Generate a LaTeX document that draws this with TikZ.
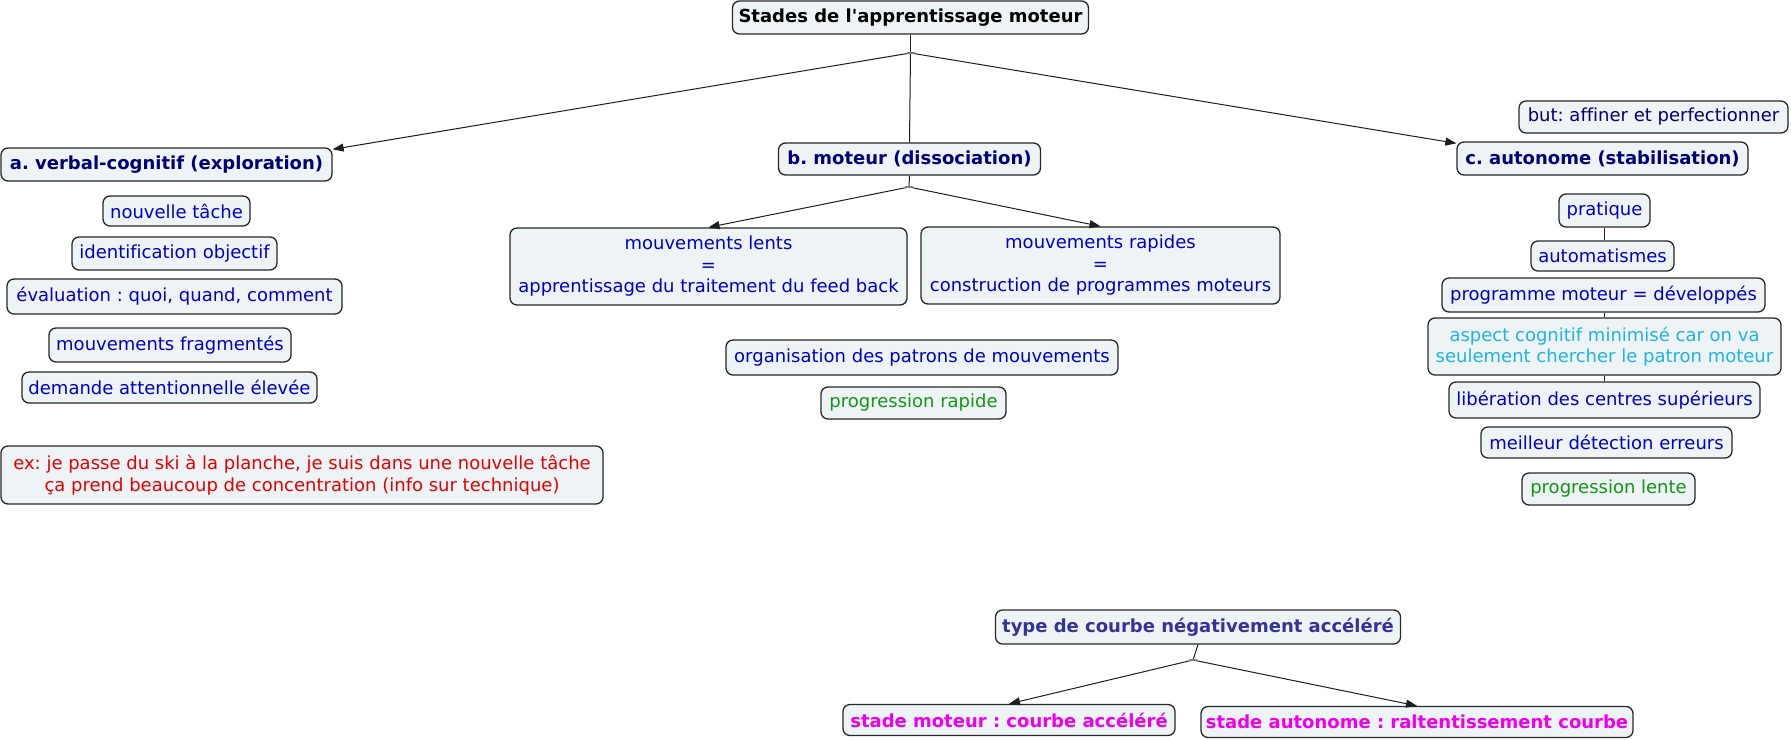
\documentclass[tikz,border=0pt]{standalone}
\usepackage{fontspec}
\setmainfont{DejaVu Sans}[Ligatures={TeXOff,NoCommon}]
\usetikzlibrary{arrows.meta,calc}
\definecolor{boxfill}{RGB}{238,244,246}
\definecolor{boxline}{RGB}{40,40,40}
\definecolor{linkc}{RGB}{30,30,30}
\definecolor{navy}{RGB}{0,0,120}
\definecolor{itemblue}{RGB}{0,0,205}
\definecolor{cyantext}{RGB}{30,180,230}
\definecolor{greentext}{RGB}{20,150,20}
\definecolor{redtext}{RGB}{230,0,0}
\definecolor{slatetext}{RGB}{51,51,153}
\definecolor{pinktext}{RGB}{238,0,238}
\frenchspacing
\begin{document}
\frenchspacing
\begin{tikzpicture}[x=1pt,y=-1pt,
  box/.style={draw=boxline, fill=boxfill, rounded corners=7pt, line width=1.3pt,
    inner sep=0pt, align=center, font=\fontsize{18}{21.5}\selectfont},
  sz/.style 2 args={minimum width=#1pt, minimum height=#2pt},
  bold/.style={font=\fontsize{18}{21.5}\selectfont\bfseries},
  hdr/.style={box, bold, text=navy},
  item/.style={box, text=itemblue},
  link/.style={draw=linkc, line width=1pt},
  arr/.style={link, -{Triangle[length=11pt,width=8pt]}},
  hubmark/.style={draw=gray, line width=1.2pt}]
\fill[white] (0,0) rectangle (1791,739);
\useasboundingbox (0,0) rectangle (1791,739);

% main tree
\node[box, bold, sz={356}{33}, text=black] (title) at (910.5,17.5) {Stades de l'apprentissage moteur};
\node[hdr, sz={331}{33}] (a) at (166.5,164.5) {a. verbal-cognitif (exploration)};
\node[hdr, sz={262}{32}] (b) at (909.5,159) {b. moteur (dissociation)};
\node[hdr, sz={291}{33}] (c) at (1602.5,158.5) {c. autonome (stabilisation)};
\node[box, sz={269}{32}, text=navy] (but) at (1653.5,117) {but: affiner et perfectionner};

% column a
\node[item, sz={147}{30}] (nt) at (176.5,211) {nouvelle tâche};
\node[item, sz={205}{33}] (io) at (174.5,253.5) {identification objectif};
\node[item, sz={335}{35}] (ev) at (174.5,296.5) {évaluation : quoi, quand, comment};
\node[item, sz={242}{34}] (mf) at (170,345) {mouvements fragmentés};
\node[item, sz={295}{31}] (da) at (169.5,387.5) {demande attentionnelle élevée};
\node[box, sz={602}{58}, text=redtext] (ex) at (302,475) {ex: je passe du ski à la planche, je suis dans une nouvelle tâche\\ça prend beaucoup de concentration (info sur technique)};

% column b
\node[item, sz={397}{77}] (ml) at (708.5,266.5) {mouvements lents\\=\\apprentissage du traitement du feed back};
\node[item, sz={359}{77}] (mr) at (1100.5,265.5) {mouvements rapides\\=\\construction de programmes moteurs};
\node[item, sz={392}{35}] (org) at (922,357.5) {organisation des patrons de mouvements};
\node[box, sz={185}{32}, text=greentext] (prr) at (913.5,403) {progression rapide};

% column c
\node[item, sz={91}{33}] (pr) at (1604.5,210.5) {pratique};
\node[item, sz={143}{30}] (au) at (1602.5,256) {automatismes};
\node[item, sz={323}{34}] (pg) at (1603.5,295) {programme moteur = développés};
\node[box, sz={353}{57}, text=cyantext] (as) at (1604.5,346.5) {aspect cognitif minimisé car on va\\seulement chercher le patron moteur};
\node[item, sz={311}{36}] (lib) at (1604.5,400) {libération des centres supérieurs};
\node[item, sz={251}{31}] (mdt) at (1606.5,442.5) {meilleur détection erreurs};
\node[box, sz={173}{32}, text=greentext] (pl) at (1608.5,489) {progression lente};

% curve tree
\node[box, bold, sz={405}{34}, text=slatetext] (tc) at (1198,627) {type de courbe négativement accéléré};
\node[box, bold, sz={332}{31}, text=pinktext] (sm) at (1009,720) {stade moteur : courbe accéléré};
\node[box, bold, sz={432}{31}, text=pinktext] (sa) at (1417,722) {stade autonome : raltentissement courbe};

% hubs
\coordinate (h1) at (910.5,53);
\coordinate (h2) at (909,187);
\coordinate (h3) at (1193,660);

% connectors
\draw[link] (title.south) -- (h1);
\draw[arr] (h1) -- ($(a.north east)+(0,2)$);
\draw[link] (h1) -- (b.north);
\draw[arr] (h1) -- ($(c.north west)+(0,2)$);
\draw[link] (b.south) -- (h2);
\draw[arr] (h2) -- (ml.north);
\draw[arr] (h2) -- (mr.north);
\draw[link] (tc.south) -- (h3);
\draw[arr] (h3) -- (sm.north);
\draw[arr] (h3) -- (sa.north);
\draw[link] (pr.south) -- (pr.south |- au.north);
\draw[link] (as.north |- pg.south) -- (as.north);
\draw[link] (as.south) -- (as.south |- lib.north);

% hub marks
\draw[hubmark] ($(h1)+(-4,0)$) -- ($(h1)+(4,0)$);
\draw[hubmark] ($(h2)+(-4,0)$) -- ($(h2)+(4,0)$);
\draw[hubmark] ($(h3)+(-4,0)$) -- ($(h3)+(4,0)$);
\end{tikzpicture}
\end{document}
